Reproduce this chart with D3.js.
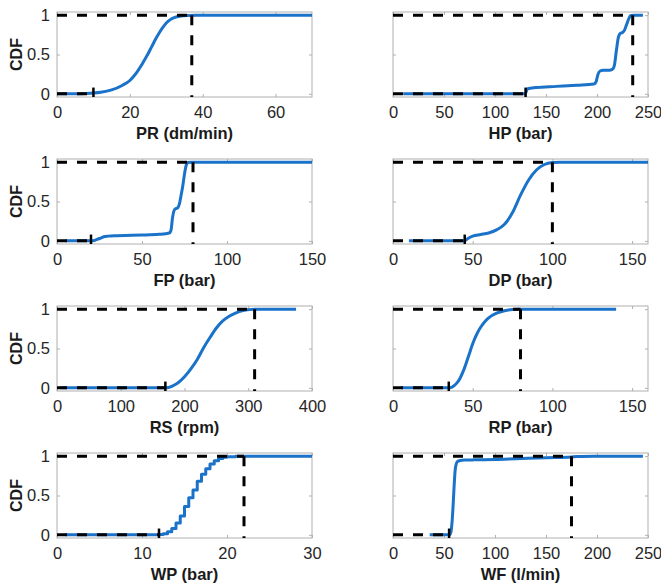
<!DOCTYPE html>
<html><head><meta charset="utf-8">
<script src="https://cdn.jsdelivr.net/npm/d3@7"></script>
<style>
body{margin:0;background:#fff;}
svg text{font-family:"Liberation Sans",Arial,Helvetica,sans-serif;}
</style></head>
<body><svg id="c" width="661" height="587"></svg>
<script>
// ---- data ----
const labels = ["PR (dm/min)","HP (bar)","FP (bar)","DP (bar)","RS (rpm)","RP (bar)","WP (bar)","WF (l/min)"];
const xMaxes = [70,250,150,160,400,160,30,250];
const xTickSteps = [20,50,50,50,100,50,10,50];
const lowerBounds = [10,130,20,45,170,35,12,55];
const upperBounds = [37,235,80,100,310,80,22,175];
const yTicks = [0,0.5,1];
const yTickLabels = ["0","0.5","1"];

const prX = [0,5,8,10,12,15,18,20,21,22,23,24,25,26,27,28,29,30,31,32,34,36,38,45,55,70];
const prY = [0,0,0.004,0.01,0.02,0.05,0.11,0.17,0.22,0.28,0.35,0.43,0.51,0.6,0.69,0.77,0.84,0.9,0.94,0.965,0.99,0.997,1,1,1,1];
const hpX = [10,60,129,130,132,140,160,180,197,199,201,203,206,212,215,217,219,221,223,225,227,229,231,233,236,245];
const hpY = [0,0,0,0.01,0.065,0.08,0.095,0.11,0.125,0.15,0.25,0.29,0.3,0.3,0.31,0.36,0.55,0.72,0.77,0.78,0.81,0.88,0.95,0.995,1,1];
const fpX = [5,15,20,22,25,28,30,35,40,50,60,66,67,68,69,70,71,72,73,74,75,76,77,79,90,150];
const fpY = [0,0,0,0.005,0.03,0.055,0.06,0.065,0.068,0.073,0.083,0.1,0.13,0.3,0.39,0.41,0.42,0.47,0.58,0.7,0.85,0.96,0.995,1,1,1];
const dpX = [10,30,45,47,50,55,60,65,70,75,80,85,90,95,100,105,120,160];
const dpY = [0,0,0,0.03,0.06,0.08,0.1,0.14,0.21,0.36,0.58,0.77,0.9,0.97,0.995,1,1,1];
const rsX = [5,100,170,175,180,190,200,210,220,230,240,250,260,270,280,290,300,310,330,375];
const rsY = [0,0,0,0.005,0.02,0.064,0.14,0.24,0.36,0.51,0.64,0.76,0.85,0.91,0.95,0.98,0.993,1,1,1];
const rpX = [5,20,35,37,40,42,45,48,50,53,55,58,60,65,70,75,80,100,140];
const rpY = [0,0,0,0.01,0.06,0.12,0.26,0.44,0.56,0.7,0.77,0.85,0.89,0.95,0.98,0.995,1,1,1];
const wpX = [1,6,11.5,12,12.5,13,13.5,14,14.5,15,15.5,16,16.5,17,17.5,18,18.5,19,19.5,20,21,30];
const wpY = [0,0,0,0.005,0.015,0.04,0.08,0.15,0.24,0.36,0.47,0.57,0.68,0.77,0.84,0.9,0.94,0.97,0.985,0.993,1,1];
const wfX = [36,50,55,56,57,58,59,60,61,62,63,66,70,80,100,120,150,175,180,200,245];
const wfY = [0,0,0,0.01,0.05,0.18,0.39,0.64,0.83,0.9,0.93,0.945,0.95,0.953,0.957,0.966,0.98,0.99,0.995,0.998,1];

const seriesX = [prX,hpX,fpX,dpX,rsX,rpX,wpX,wfX];
const seriesY = [prY,hpY,fpY,dpY,rsY,rpY,wpY,wfY];
const stepped = [false,false,false,false,false,false,true,false];

// ---- layout ----
const colX = [57,393], rowY = [12,159,306,453], W = 255, H = 85;
const blue = "#1a72c9";
const svg = d3.select("#c");

labels.forEach((lab,i)=>{
  const col = i%2, row = Math.floor(i/2);
  const g = svg.append("g").attr("transform",`translate(${colX[col]},${rowY[row]})`);
  const x = d3.scaleLinear().domain([0,xMaxes[i]]).range([0,W]);
  const y = d3.scaleLinear().domain([-0.04,1.04]).range([H,0]);
  const xt = d3.range(0,xMaxes[i]+1e-9,xTickSteps[i]);

  // box
  g.append("rect").attr("x",0).attr("y",0).attr("width",W).attr("height",H)
    .attr("fill","none").attr("stroke","#b0b0b0").attr("stroke-width",1);

  // axes (inside ticks)
  const ax = d3.axisBottom(x).tickValues(xt).tickSize(-3).tickPadding(9).tickFormat(d3.format("d"));
  const gx = g.append("g").attr("transform",`translate(0,${H})`).call(ax);
  const axT = d3.axisTop(x).tickValues(xt).tickSize(-3).tickFormat("");
  const gxt = g.append("g").call(axT);
  const ay = d3.axisLeft(y).tickValues(yTicks).tickSize(-3).tickPadding(7)
     .tickFormat((d,k)=> col===0 ? yTickLabels[k] : "");
  const gy = g.append("g").call(ay);
  const ayR = d3.axisRight(y).tickValues(yTicks).tickSize(-3).tickFormat("");
  const gyr = g.append("g").attr("transform",`translate(${W},0)`).call(ayR);
  [gx,gxt,gy,gyr].forEach(a=>{
    a.select(".domain").remove();
    a.selectAll(".tick line").attr("stroke","#b0b0b0");
    a.selectAll("text").attr("fill","#262626").style("font-size","16.5px");
  });

  // curve
  const pts = seriesX[i].map((v,k)=>[v,seriesY[i][k]]);
  const line = d3.line().x(d=>x(d[0])).y(d=>y(d[1]))
    .curve(stepped[i] ? d3.curveStepAfter : d3.curveMonotoneX);
  g.append("path").datum(pts).attr("d",line).attr("fill","none")
    .attr("stroke",blue).attr("stroke-width",3).attr("stroke-linejoin","round");

  // bounds
  const dash = "10,10";
  g.append("line").attr("x1",x(0)).attr("x2",x(lowerBounds[i])).attr("y1",y(0)).attr("y2",y(0))
    .attr("stroke","#000").attr("stroke-width",3).attr("stroke-dasharray",dash);
  g.append("line").attr("x1",x(lowerBounds[i])).attr("x2",x(lowerBounds[i])).attr("y1",y(-0.04)).attr("y2",y(0.08))
    .attr("stroke","#000").attr("stroke-width",2.5);
  g.append("line").attr("x1",x(0)).attr("x2",x(upperBounds[i])).attr("y1",y(1)).attr("y2",y(1))
    .attr("stroke","#000").attr("stroke-width",3).attr("stroke-dasharray",dash);
  g.append("line").attr("x1",x(upperBounds[i])).attr("x2",x(upperBounds[i])).attr("y1",y(1)).attr("y2",y(-0.04))
    .attr("stroke","#000").attr("stroke-width",3).attr("stroke-dasharray",dash);

  // labels
  g.append("text").attr("x",W/2).attr("y",H+42).attr("text-anchor","middle")
    .style("font-size","16.5px").style("font-weight","bold").attr("fill","#1a1a1a").text(lab);
  if(col===0){
    g.append("text").attr("transform",`translate(${-35},${H/2}) rotate(-90)`).attr("text-anchor","middle")
      .style("font-size","16px").style("font-weight","bold").attr("fill","#1a1a1a").text("CDF");
  }
});
</script></body></html>
